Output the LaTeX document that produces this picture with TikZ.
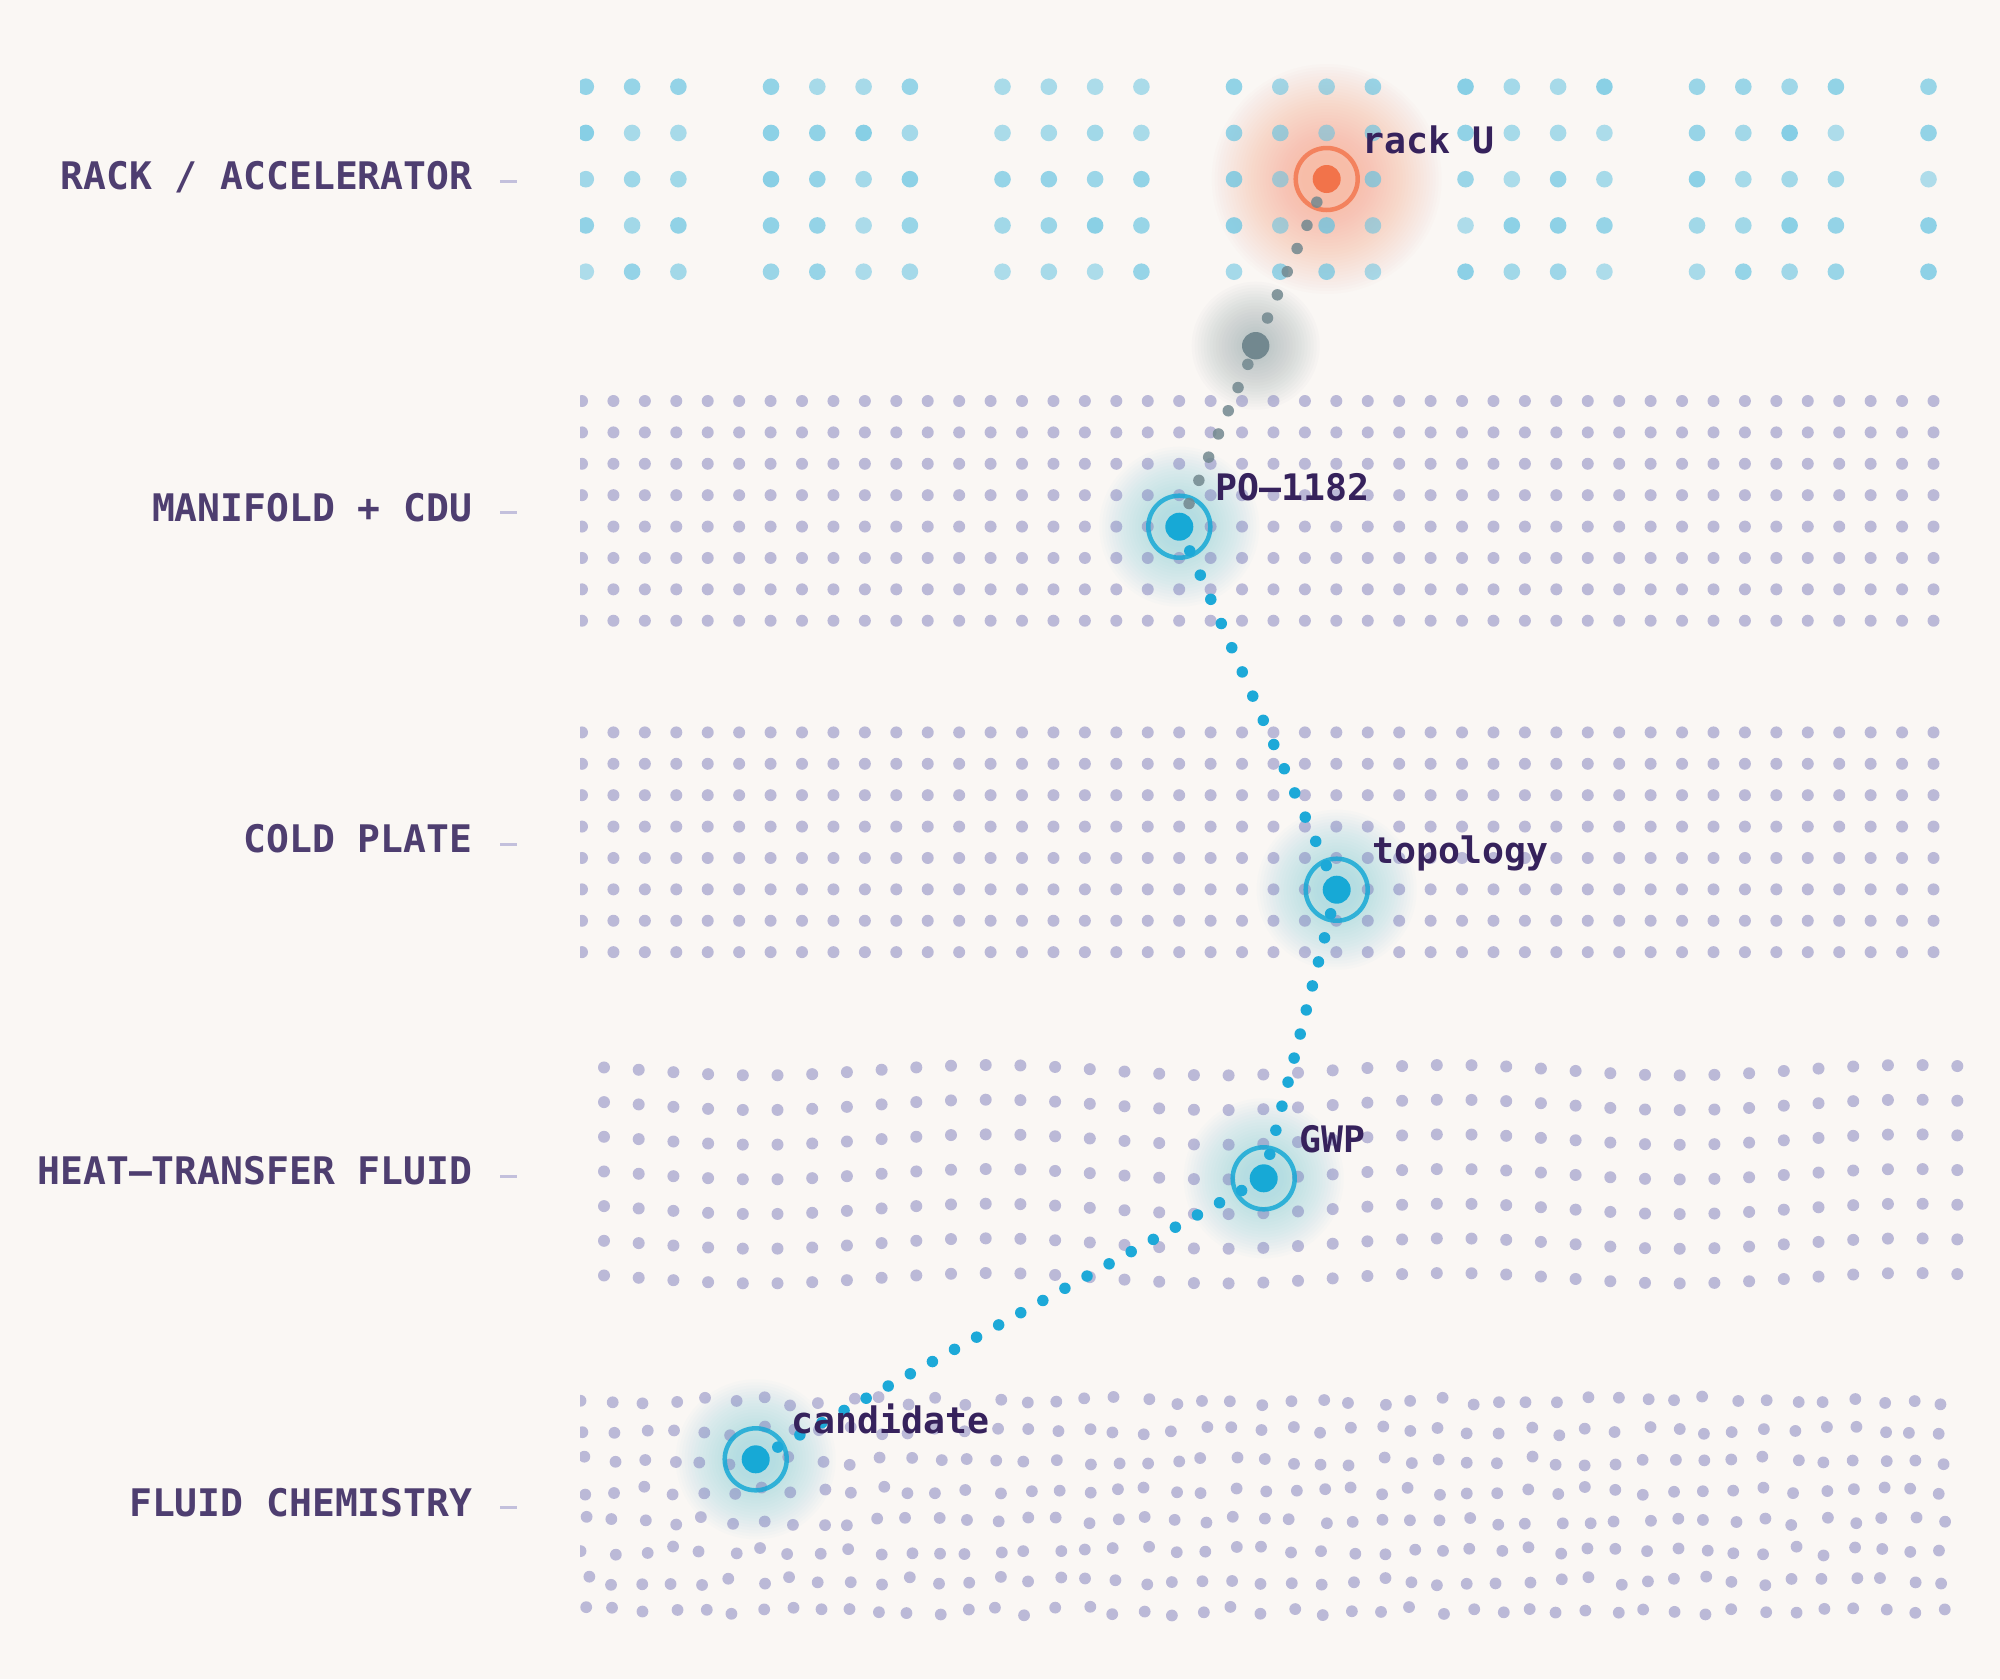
\documentclass[tikz,border=0pt]{standalone}
\usepackage{fontspec}
\setmonofont{DejaVu Sans Mono}
\usetikzlibrary{positioning}

\definecolor{paper}{HTML}{FAF7F4}
\definecolor{rackdot}{HTML}{64C3E1}
\definecolor{griddot}{HTML}{7E7DBC}
\definecolor{hubblue}{HTML}{17A9D6}
\definecolor{trailblue}{HTML}{1DA9D8}
\definecolor{ember}{HTML}{F2734A}
\definecolor{slate}{HTML}{72888F}
\definecolor{glowblue}{HTML}{7CCFE2}
\definecolor{glowora}{HTML}{F79A75}
\definecolor{glowgray}{HTML}{8A9EA3}
\definecolor{bandtext}{HTML}{4E3E70}
\definecolor{tagtext}{HTML}{36225C}
\definecolor{tickc}{HTML}{C3C0DC}

\begin{document}
\begin{tikzpicture}[
    x=1pt, y=-1pt,
    band/.style={anchor=base east, inner sep=0pt, text=bandtext, font=\ttfamily\bfseries\fontsize{38}{44}\selectfont},
    tick/.style={draw=tickc, line width=3pt},
    grain/.style={fill=griddot, fill opacity=0.5},
    hub/.style={circle, draw=hubblue, draw opacity=0.85, line width=4.5pt, minimum size=62pt, inner sep=0pt},
    tag/.style={anchor=base west, inner sep=0pt, text=tagtext, font=\ttfamily\bfseries\fontsize{36.5}{42}\selectfont},
    trail/.style={line width=11.5pt, line cap=round}
]
    \useasboundingbox (0,0) rectangle (2000,1679);
    \fill[paper] (0,0) rectangle (2000,1679);
    \pgfmathsetseed{11}

    % Positions
    \coordinate (p-rack) at (1326.7,179);
    \coordinate (p-via)  at (1255.7,345.7);
    \coordinate (p-po)   at (1179.3,526.7);
    \coordinate (p-topo) at (1336.7,889.7);
    \coordinate (p-gwp)  at (1263.7,1178.3);
    \coordinate (p-cand) at (755.7,1459.3);

    % Glows
    \foreach \r in {115,112,...,25}
        \fill[glowora, opacity=0.022] (p-rack) circle (\r pt);
    \foreach \r in {64,61,...,16}
        \fill[glowgray, opacity=0.034] (p-via) circle (\r pt);
    \foreach \c in {p-po,p-topo,p-gwp,p-cand}
        \foreach \r in {80,77,...,20}
            \fill[glowblue, opacity=0.03] (\c) circle (\r pt);

    % Band 1: rack / accelerator
    \begin{scope}
        \clip (580,40) rectangle (1940,300);
        \foreach \j in {1,...,30} {
            \pgfmathtruncatemacro\m{mod(\j,5)}
            \ifnum\m=4 \else
                \foreach \i in {0,...,4} {
                    \pgfmathsetmacro\a{0.5+0.28*rnd}
                    \fill[rackdot, opacity=\a] (539.5+46.3*\j, 86.7+46.25*\i) circle (8.3pt);
                }
            \fi
        }
    \end{scope}

    % Bands 2 and 3: manifold, cold plate
    \begin{scope}
        \clip (580,380) rectangle (1940,970);
        \foreach \k in {0,...,43}
            \foreach \i in {0,...,7} {
                \fill[grain] (582+31.43*\k, 401+31.39*\i) circle (6pt);
                \fill[grain] (582+31.43*\k, 732.4+31.39*\i) circle (6pt);
            }
    \end{scope}

    % Band 4: heat-transfer fluid
    \foreach \k in {0,...,39}
        \foreach \i in {0,...,6} {
            \pgfmathsetmacro\px{604+34.7*\k}
            \pgfmathsetmacro\py{1070.2+34.67*\i+5.2*cos(0.7826*(\px-760))}
            \fill[grain] (\px,\py) circle (6pt);
        }

    % Band 5: fluid chemistry
    \begin{scope}
        \clip (580,1370) rectangle (1952,1650);
        \foreach \k in {0,...,46}
            \foreach \i in {0,...,7} {
                \pgfmathsetmacro\px{585+29.5*\k+4.5*rand}
                \pgfmathsetmacro\py{1401+30*\i+4.5*rand}
                \fill[grain] (\px,\py) circle (5.9pt);
            }
    \end{scope}

    % Hubs
    \node[hub, draw=ember, draw opacity=0.8] (rack) at (p-rack) {};
    \node[circle, minimum size=27pt, inner sep=0pt] (via) at (p-via) {};
    \node[hub] (po) at (p-po) {};
    \node[hub] (topo) at (p-topo) {};
    \node[hub] (gwp) at (p-gwp) {};
    \node[hub] (cand) at (p-cand) {};

    % Trail
    \draw[trail, draw=slate, draw opacity=0.85, dash pattern=on 0pt off 25.18pt] (rack.center) -- (via.center) -- (po.center);
    \draw[trail, draw=trailblue, dash pattern=on 0pt off 26.38pt] (po.center) -- (topo.center);
    \draw[trail, draw=trailblue, dash pattern=on 0pt off 24.81pt] (topo.center) -- (gwp.center);
    \draw[trail, draw=trailblue, dash pattern=on 0pt off 25.24pt] (gwp.center) -- (cand.center);

    % Hub cores
    \fill[ember] (rack) circle (14pt);
    \fill[slate] (via) circle (13.7pt);
    \foreach \n in {po,topo,gwp,cand}
        \fill[hubblue] (\n) circle (14pt);

    % Tags
    \node[tag] (tag-rack) at ([shift={(36,-26)}]rack.center) {rack U};
    \node[tag] (tag-po) at ([shift={(36,-26)}]po.center) {PO–1182};
    \node[tag] (tag-topo) at ([shift={(36,-26)}]topo.center) {topology};
    \node[tag] (tag-gwp) at ([shift={(36,-26)}]gwp.center) {GWP};
    \node[tag] (tag-cand) at ([shift={(36,-26)}]cand.center) {candidate};

    % Band labels
    \node[band] (lab-rack) at (472.5,189.5) {RACK / ACCELERATOR};
    \node[band] (lab-mani) at (472.5,521.2) {MANIFOLD + CDU};
    \node[band] (lab-cold) at (472.5,852.8) {COLD PLATE};
    \node[band] (lab-fluid) at (472.5,1184.5) {HEAT–TRANSFER FLUID};
    \node[band] (lab-chem) at (472.5,1516.1) {FLUID CHEMISTRY};
    \foreach \y in {181,512.7,844.3,1176,1507.6}
        \draw[tick] (500,\y) -- (517,\y);

\end{tikzpicture}
\end{document}
